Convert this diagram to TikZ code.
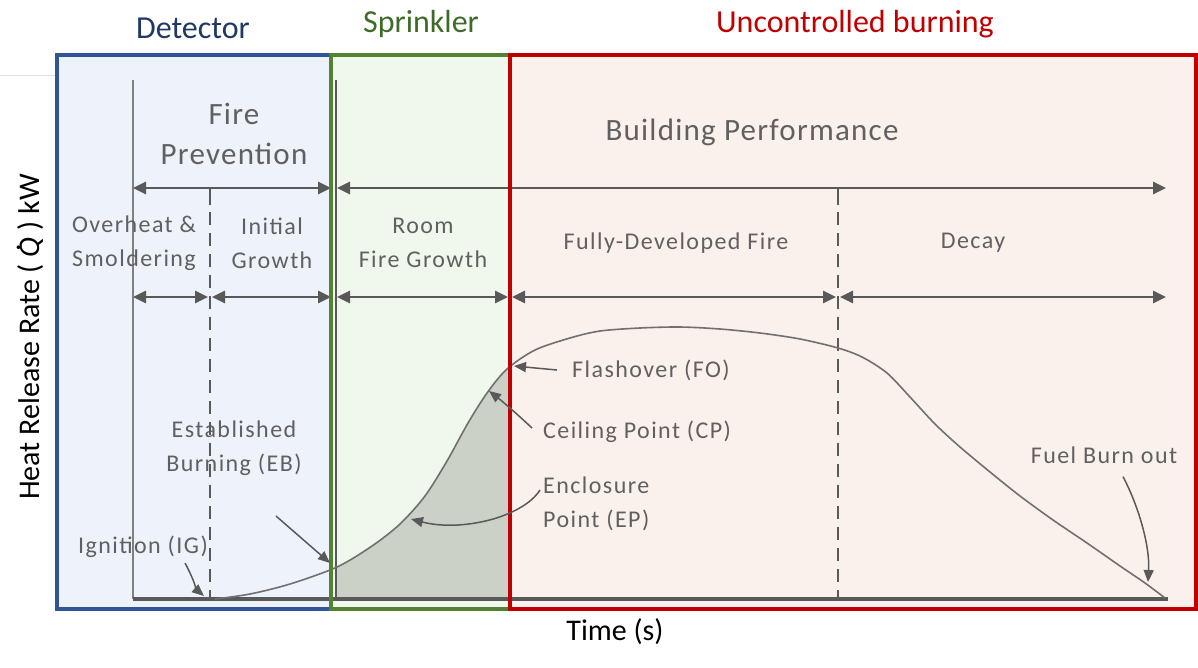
\documentclass[tikz,border=0pt]{standalone}
\usepackage{fontspec}
\setmainfont{Carlito}
\newfontfamily\spaced[LetterSpace=6]{Carlito}
\newfontfamily\spacedb[LetterSpace=4]{Carlito}
\usetikzlibrary{arrows.meta}
\definecolor{navytxt}{HTML}{203864}
\definecolor{greentxt}{HTML}{3F6B28}
\definecolor{redtxt}{HTML}{C00000}
\definecolor{blueline}{HTML}{2F5597}
\definecolor{greenline}{HTML}{548235}
\definecolor{redline}{HTML}{C00000}
\definecolor{bluefill}{HTML}{EEF2FA}
\definecolor{greenfill}{HTML}{F0F7EC}
\definecolor{redfill}{HTML}{FBF1EC}
\definecolor{darkg}{HTML}{595959}
\definecolor{midg}{HTML}{808080}
\definecolor{txtg}{HTML}{606060}
\definecolor{areafill}{HTML}{CCD1C7}
\definecolor{curveg}{HTML}{707070}
\begin{document}
\begin{tikzpicture}[x=1pt,y=-1pt,
  title/.style={font=\fontsize{32}{36}\selectfont, inner sep=0pt},
  phase/.style={font=\spaced\fontsize{24}{34}\selectfont, text=txtg, align=center, inner sep=0pt},
  bigphase/.style={font=\spacedb\fontsize{31}{40}\selectfont, text=txtg, align=center, inner sep=0pt},
  note/.style={font=\spaced\fontsize{24}{34}\selectfont, text=txtg, align=left, inner sep=0pt},
  span/.style={darkg, line width=2.6pt, {Triangle[length=13pt,width=12pt]}-{Triangle[length=13pt,width=12pt]}},
  ptr/.style={darkg, line width=1.5pt, -{Triangle[length=12pt,width=10pt]}},
  divider/.style={darkg, line width=2pt, dash pattern=on 13pt off 8pt},
  frame/.style={line width=4pt}
]
\useasboundingbox (0,0) rectangle (1198,667);
% faint rule at top left
\draw[gray!25, line width=1pt] (0,75) -- (57,75);
% zone fills
\fill[bluefill] (57,55) rectangle (331,609);
\fill[greenfill] (331,55) rectangle (510,609);
\fill[redfill] (510,55) rectangle (1196,609);
% curve
\def\hrr{(215,599) (250,594) (290,584) (337,567) (372,546) (400,524) (425,496) (447,461) (468,423) (487,393) (507,369) (535,350) (570,338) (600,331) (640,328) (680,327) (720,329) (760,333) (800,339) (838,348) (862,357) (887,373) (910,397) (935,424) (960,447) (990,472) (1020,496) (1053,520) (1087,543) (1120,566) (1145,583) (1165,598)}
\begin{scope}
  \clip (336,55) rectangle (510,599);
  \fill[areafill] plot[smooth, tension=0.5] coordinates {\hrr} -- (1165,599) -- (215,599) -- cycle;
\end{scope}
% axes
\draw[midg, line width=2pt] (133,80) -- (133,599);
\draw[darkg, line width=2.5pt] (336,80) -- (336,599);
\draw[darkg, line width=4pt] (133,599) -- (1168,599);
% dividers
\draw[darkg, line width=2pt] (210,188) -- (210,205);
\draw[divider] (210,212) -- (210,599);
\draw[darkg, line width=2pt] (838,188) -- (838,205);
\draw[divider] (838,212) -- (838,599);
% coordinates on the timeline
\coordinate (t0) at (133,188);
\coordinate (t1) at (331,188);
\coordinate (t2) at (337,188);
\coordinate (t3) at (1166,188);
\coordinate (r0) at (133,297);
\coordinate (r1) at (208,297);
\coordinate (r2) at (212,297);
\coordinate (r3) at (331,297);
\coordinate (r4) at (337,297);
\coordinate (r5) at (508,297);
\coordinate (r6) at (512,297);
\coordinate (r7) at (836,297);
\coordinate (r8) at (840,297);
\coordinate (r9) at (1166,297);
\draw[span] (t0) -- (t1);
\draw[span] (t2) -- (t3);
\draw[span] (r0) -- (r1);
\draw[span] (r2) -- (r3);
\draw[span] (r4) -- (r5);
\draw[span] (r6) -- (r7);
\draw[span] (r8) -- (r9);
% the curve itself
\draw[curveg, line width=1.6pt] plot[smooth, tension=0.5] coordinates {\hrr};
% frames
\draw[frame, blueline] (57,55) rectangle (331,609);
\draw[frame, greenline] (331,55) rectangle (510,609);
\draw[frame, redline] (510,55) rectangle (1196,609);
% titles
\node[title, text=navytxt] (det) at (193,28) {Detector};
\node[title, text=greentxt] (spr) at (421,24) {Sprinkler};
\node[title, text=redtxt] (unc) at (855,24) {Uncontrolled burning};
% phase labels
\node[bigphase] (fp) at (234,134) {Fire\\Prevention};
\node[bigphase] (bp) at (752,132) {Building Performance};
\node[phase] (os) at (134,243) {Overheat \&\\Smoldering};
\node[phase] (ig0) at (272,243) {Initial\\Growth};
\node[phase] (rf) at (423,243) {Room\\Fire Growth};
\node[phase] (fd) at (676,243) {Fully-Developed Fire};
\node[phase] (dc) at (973,243) {Decay};
% event labels
\node[note, align=center] (eb) at (234,448) {Established\\Burning (EB)};
\node[note] (ig) at (143,547) {Ignition (IG)};
\node[note, anchor=west] (fo) at (572,370) {Flashover (FO)};
\node[note, anchor=west] (cp) at (543,432) {Ceiling Point (CP)};
\node[note, anchor=west] (ep) at (543,504) {Enclosure\\Point (EP)};
\node[note] (fb) at (1104,455) {Fuel Burn out};
% axis labels
\node[font=\fontsize{30}{34}\selectfont, inner sep=0pt] (tm) at (615,632) {Time (s)};
\node[font=\fontsize{30}{36}\selectfont, inner sep=0pt, rotate=90, anchor=base] (hr) at (39,337)
  {Heat Release Rate ( \ooalign{\textit{Q}\cr\hidewidth\raisebox{0.62em}{.}\hidewidth\cr} ) kW};
% pointer targets
\coordinate (cIG) at (204,596);
\coordinate (cEB) at (330,563);
\coordinate (ebTail) at (276,516);
\coordinate (cFO) at (514,366);
\coordinate (cCP) at (489,391);
\coordinate (cEP) at (411,519);
\coordinate (cFB) at (1148,582);
\draw[ptr] ([xshift=-23pt,yshift=-5pt]ig.south east) .. controls (194,580) and (197,590) .. (cIG);
\draw[ptr] (ebTail) -- (cEB);
\draw[ptr] ([xshift=-15pt]fo.west) -- (cFO);
\draw[ptr] ([xshift=-11pt,yshift=4pt]cp.west) .. controls (516,413) and (502,401) .. (cCP);
\draw[ptr] ([xshift=-3pt,yshift=14pt]ep.west) .. controls (522,518) and (460,532) .. (cEP);
\draw[ptr] ([xshift=19pt,yshift=-13pt]fb.south) .. controls (1138,505) and (1150,545) .. (cFB);
\end{tikzpicture}
\end{document}
